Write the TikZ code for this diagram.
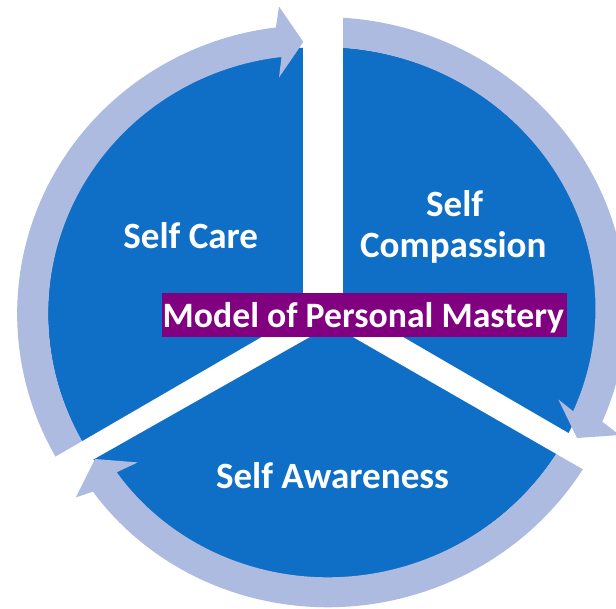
\documentclass[tikz,border=0pt]{standalone}
\usepackage{fontspec}
\setmainfont{Carlito}
\definecolor{segblue}{HTML}{0F6FC6}
\definecolor{ringcol}{HTML}{ADBBE0}
\definecolor{boxpurple}{HTML}{800080}
\newcommand{\ringarrow}[7]{%
  % #1 start angle, #2 end angle, #3 inward drift, #4 outer wing, #5 tip, #6 inner wing
  \fill[ringcol] plot[domain=0:1, samples=100]
    ({323+(306-#3*\x*\x*\x)*cos(#1+(#2-(#1))*\x)},
     {313-0.967*(306-#3*\x*\x*\x)*sin(#1+(#2-(#1))*\x)})
    -- #4 -- #5 -- #6 --
    plot[domain=0:1, samples=100]
    ({323+(275-#3*(1-\x)*(1-\x)*(1-\x))*cos(#2+(#1-(#2))*\x)},
     {313-0.967*(275-#3*(1-\x)*(1-\x)*(1-\x))*sin(#2+(#1-(#2))*\x)})
    -- cycle;}
\begin{document}
\begin{tikzpicture}[x=0.75pt, y=-0.75pt,
  lbl/.style={text=white, font=\fontsize{27.8}{30}\selectfont\bfseries, inner sep=0pt},
  ttl/.style={text=white, font=\fontsize{26.8}{30}\selectfont\bfseries, inner sep=0pt},
  gap/.style={fill=white}]
\useasboundingbox (0,0) rectangle (616,608);
\clip (0,0) rectangle (616,608);
% blue disc
\fill[segblue] (323,313) ellipse [x radius=206.25pt, y radius=199.5pt];
% circular arrows
\ringarrow{88}{-22.1}{5}{(619.7,435)}{(577,438)}{(558.3,399.4)}{}
\ringarrow{-30}{-141.4}{11}{(75.9,497.4)}{(95,459)}{(137.7,462.4)}{}
\ringarrow{210}{98.9}{7}{(279,6.5)}{(303.3,42)}{(279,77.5)}{}
% white gaps between segments
\fill[gap] (303.3,-10) rectangle (342.7,330);
\fill[gap] (335,294.5) -- (-20,500.5) -- (-20,523.6) -- (335,322.7) -- cycle;
\fill[gap] (310,283) -- (640,474.6) -- (640,502) -- (310,312.3) -- cycle;
% labels
\node[lbl, anchor=base] (care) at (190.8,248.3) {Self Care};
\node[lbl, anchor=base] (self) at (454.7,216.7) {Self};
\node[lbl, anchor=base] (comp) at (453.3,257.3) {Compassion};
\node[lbl, anchor=base] (aware) at (332.5,488) {Self Awareness};
% centre title
\node[fill=boxpurple, minimum width=303.3pt, minimum height=33pt, inner sep=0pt] (box) at (364.5,315.3) {};
\node[ttl, anchor=base] (title) at (363.3,327.7) {Model of Personal Mastery};
\end{tikzpicture}
\end{document}
